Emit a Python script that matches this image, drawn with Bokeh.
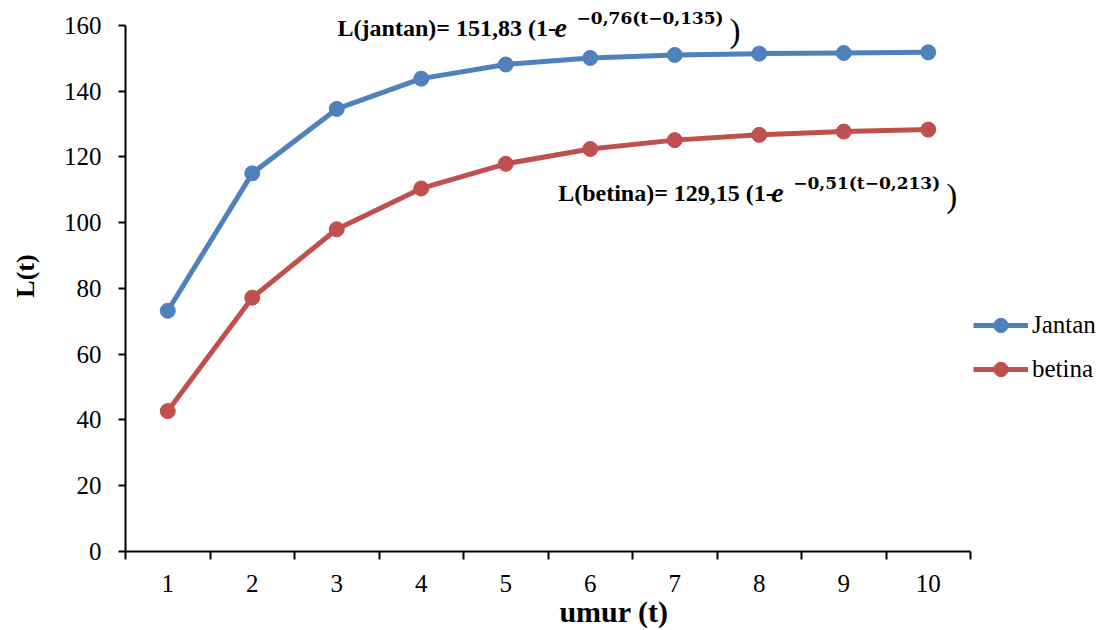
from bokeh.plotting import figure
from bokeh.models import FixedTicker, Range1d, Label, Legend, LegendItem
from bokeh.embed import file_html
from bokeh.resources import INLINE

umur = [1, 2, 3, 4, 5, 6, 7, 8, 9, 10]
jantan = [73.2, 115.0, 134.6, 143.8, 148.1, 150.1, 151.0, 151.4, 151.6, 151.8]
betina = [42.7, 77.2, 98.0, 110.4, 117.9, 122.4, 125.1, 126.7, 127.7, 128.3]
y_ticks = [0, 20, 40, 60, 80, 100, 120, 140, 160]
cat_edges = [0.5, 1.5, 2.5, 3.5, 4.5, 5.5, 6.5, 7.5, 8.5, 9.5, 10.5]

BLUE = "#4F81BD"
RED = "#C0504D"
SERIF = "Liberation Serif"

# frame spans the page width (legend lives inside it); axes are bounded to the data area
PX_PER_X = 84.5
PX_PER_Y = 529 / 160
x_end = 0.5 + 977 / PX_PER_X
y_end = 160 + 25 / PX_PER_Y

p = figure(width=1102, height=630, output_backend="svg", toolbar_location=None,
           x_range=Range1d(0.5, x_end), y_range=Range1d(0, y_end),
           min_border_left=125, min_border_right=0, min_border_top=0, min_border_bottom=76)
p.outline_line_color = None
p.xgrid.visible = False
p.ygrid.visible = False
p.background_fill_color = "white"
p.border_fill_color = "white"

# y axis
ya = p.yaxis[0]
ya.bounds = (0, 160)
ya.ticker = FixedTicker(ticks=y_ticks)
ya.axis_line_color = "black"
ya.axis_line_width = 2
ya.major_tick_line_color = "black"
ya.major_tick_line_width = 2
ya.major_tick_in = 0
ya.major_tick_out = 7
ya.minor_tick_line_color = None
ya.major_label_text_font = SERIF
ya.major_label_text_font_size = "25px"
ya.major_label_text_color = "black"
ya.major_label_standoff = 17
ya.axis_label = "L(t)"
ya.axis_label_text_font = SERIF
ya.axis_label_text_font_style = "bold"
ya.axis_label_text_font_size = "26px"
ya.axis_label_text_color = "black"
ya.axis_label_standoff = 21

# x axis
xa = p.xaxis[0]
xa.bounds = (0.5, 10.5)
xa.ticker = FixedTicker(ticks=umur, minor_ticks=cat_edges)
xa.axis_line_color = "black"
xa.axis_line_width = 2
xa.major_tick_line_color = None
xa.major_tick_in = 0
xa.major_tick_out = 0
xa.minor_tick_line_color = "black"
xa.minor_tick_line_width = 2
xa.minor_tick_in = 0
xa.minor_tick_out = 8
xa.major_label_text_font = SERIF
xa.major_label_text_font_size = "25px"
xa.major_label_text_color = "black"
xa.major_label_standoff = 15
xa.axis_label = "umur (t)"
xa.axis_label_text_font = SERIF
xa.axis_label_text_font_style = "bold"
xa.axis_label_text_font_size = "30px"
xa.axis_label_text_color = "black"
xa.axis_label_standoff = 0

l1 = p.line(umur, jantan, line_color=BLUE, line_width=5)
s1 = p.scatter(umur, jantan, size=15, fill_color=BLUE, line_color=BLUE)
l2 = p.line(umur, betina, line_color=RED, line_width=5)
s2 = p.scatter(umur, betina, size=15, fill_color=RED, line_color=RED)

legend = Legend(items=[LegendItem(label="Jantan", renderers=[l1, s1]),
                       LegendItem(label="betina", renderers=[l2, s2])],
                location=(848, 164), glyph_width=55, glyph_height=36, spacing=8,
                padding=0, margin=0, label_standoff=4,
                label_text_font=SERIF, label_text_font_size="25px",
                label_text_color="black", border_line_color=None,
                background_fill_alpha=0)
p.add_layout(legend, "center")


def formula(x, y, main, sup, e_off):
    dy = 9
    parts = [
        dict(text=main, x_offset=0, y_offset=dy, text_font_size="24px", text_font_style="bold", text_font=SERIF),
        dict(text="e", x_offset=e_off, y_offset=dy, text_font_size="28px", text_font_style="bold italic", text_font=SERIF),
        dict(text=sup, x_offset=e_off + 22, y_offset=dy + 10, text_font_size="17px", text_font_style="bold", text_font="DejaVu Serif"),
        dict(text=")", x_offset=e_off + 175, y_offset=dy - 3, text_font_size="33px", text_font_style="normal", text_font=SERIF),
    ]
    for pt in parts:
        p.add_layout(Label(x=x, y=y, text_baseline="alphabetic", text_align="left",
                           text_color="black", **pt))


formula(3.01, 156.4, "L(jantan)= 151,83 (1-", "\u22120,76(t\u22120,135)", 217)
formula(5.62, 106.2, "L(betina)= 129,15 (1-", "\u22120,51(t\u22120,213)", 213)

open("out.html", "w").write(file_html(p, INLINE))
